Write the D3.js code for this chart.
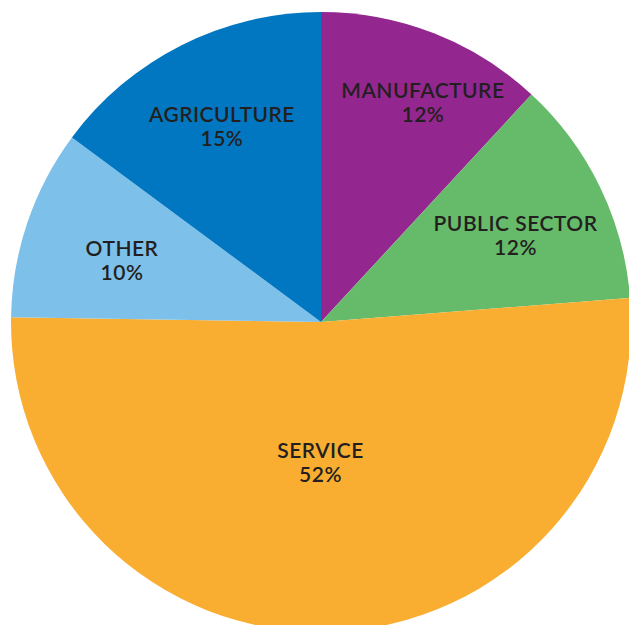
<!DOCTYPE html>
<html>
<head>
<meta charset="utf-8">
<script src="https://cdn.jsdelivr.net/npm/d3@7"></script>
<style>
  html, body { margin: 0; padding: 0; background: #ffffff; }
  svg { display: block; }
</style>
</head>
<body>
<svg id="chart" width="629" height="625"></svg>
<script>
// Employment share by sector, clockwise from 12 o'clock
const sectors = ["MANUFACTURE", "PUBLIC SECTOR", "SERVICE", "OTHER", "AGRICULTURE"];
const shares = [12, 12, 52, 10, 15];
const colors = ["#93278f", "#66bb6a", "#f9ae31", "#7dc1ea", "#0077c0"];

// Label placement: distance from the centre (px) and a small turn (degrees)
const labelRadius = [244, 214, 138, 209, 221];
const labelTurn = [3.3, 1.2, 2, -0.9, 0.1];

const width = 629, height = 625;
const cx = 321, cy = 322, radius = 310;

const svg = d3.select("#chart");
const g = svg.append("g").attr("transform", `translate(${cx},${cy})`);

const data = sectors.map((name, i) => ({
  name, value: shares[i], color: colors[i], lr: labelRadius[i], turn: labelTurn[i]
}));

const pie = d3.pie().value(d => d.value).sort(null);
const arc = d3.arc().innerRadius(0).outerRadius(radius);

const arcs = pie(data);

g.selectAll("path.slice")
  .data(arcs)
  .join("path")
  .attr("class", "slice")
  .attr("d", arc)
  .attr("fill", d => d.data.color);

const labels = g.selectAll("g.label")
  .data(arcs)
  .join("g")
  .attr("class", "label")
  .attr("transform", d => {
    const a = (d.startAngle + d.endAngle) / 2 + d.data.turn * Math.PI / 180;
    const r = d.data.lr;
    return `translate(${r * Math.sin(a)},${-r * Math.cos(a)})`;
  });

const textStyle = sel => sel
  .attr("text-anchor", "middle")
  .attr("font-family", "Lato, sans-serif")
  .attr("font-weight", 600)
  .attr("font-size", 21)
  .attr("letter-spacing", 0.5)
  .attr("fill", "#231f20");

labels.append("text")
  .call(textStyle)
  .attr("y", -2)
  .text(d => d.data.name);

labels.append("text")
  .call(textStyle)
  .attr("y", 22)
  .text(d => d.data.value + "%");
</script>
</body>
</html>
